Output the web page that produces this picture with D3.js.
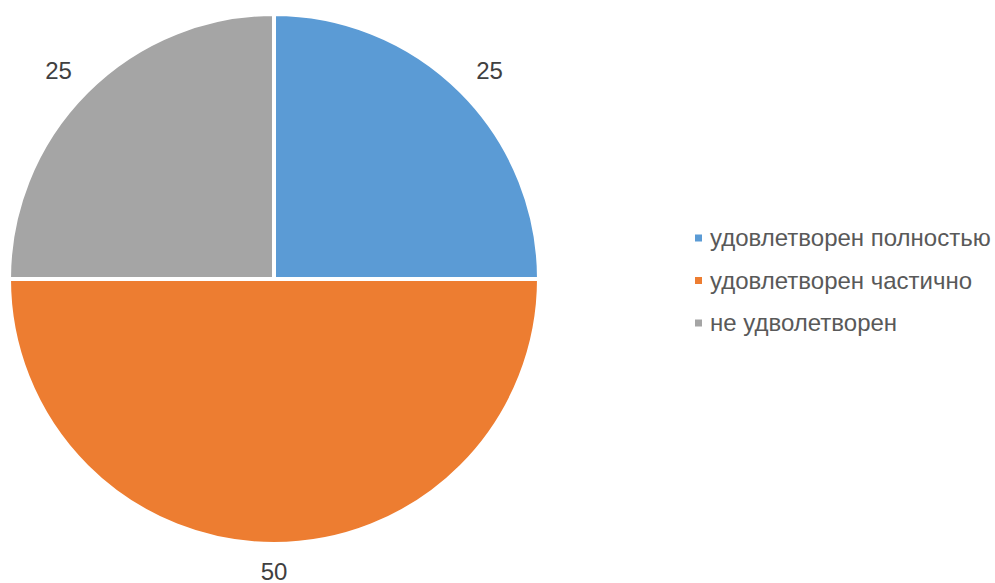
<!DOCTYPE html>
<html>
<head>
<meta charset="utf-8">
<script src="https://cdn.jsdelivr.net/npm/d3@7"></script>
<style>
  body { margin: 0; background: #fff; }
  svg { display: block; font-family: Arial, "Liberation Sans", sans-serif; }
</style>
</head>
<body>
<div id="chart"></div>
<script>
var categories = ['удовлетворен полностью', 'удовлетворен частично', 'не удволетворен'];
var values = [25, 50, 25];
var colors = ['#5B9BD5', '#ED7D31', '#A5A5A5'];

var width = 995, height = 583;
var cx = 274, cy = 279, radius = 265;

var svg = d3.select('#chart').append('svg')
    .attr('width', width)
    .attr('height', height);

var data = categories.map(function(c, i) { return {name: c, value: values[i], color: colors[i]}; });

var pie = d3.pie().sort(null).value(function(d) { return d.value; });
var arc = d3.arc().innerRadius(0).outerRadius(radius);
var labelR = radius + 20;
var labelArc = d3.arc().innerRadius(labelR).outerRadius(labelR);

var g = svg.append('g').attr('transform', 'translate(' + cx + ',' + cy + ')');

var arcs = pie(data);

g.selectAll('path.slice')
    .data(arcs)
    .enter().append('path')
    .attr('class', 'slice')
    .attr('d', arc)
    .attr('fill', function(d) { return d.data.color; })
    .attr('stroke', '#fff')
    .attr('stroke-width', 4);

// data labels, outside the pie
g.selectAll('text.lbl')
    .data(arcs)
    .enter().append('text')
    .attr('class', 'lbl')
    .attr('text-anchor', 'middle')
    .attr('dominant-baseline', 'central')
    .attr('font-size', 24)
    .attr('fill', '#404040')
    .attr('transform', function(d) {
        var c = labelArc.centroid(d);
        var hw = 14, hh = 7;
        var x = c[0] + (Math.abs(c[0]) > 1 ? Math.sign(c[0]) * hw : 0);
        var y = c[1] + (Math.abs(c[1]) > 1 ? Math.sign(c[1]) * hh : 0);
        return 'translate(' + x + ',' + y + ')';
    })
    .text(function(d) { return d.data.value; });

// legend
var legend = svg.append('g').attr('transform', 'translate(695,0)');
var rowY = d3.scaleLinear().domain([0, 2]).range([238, 323]);

var item = legend.selectAll('g.item')
    .data(data)
    .enter().append('g')
    .attr('class', 'item')
    .attr('transform', function(d, i) { return 'translate(0,' + rowY(i) + ')'; });

item.append('rect')
    .attr('x', 0).attr('y', -3.5)
    .attr('width', 7).attr('height', 7)
    .attr('fill', function(d) { return d.color; });

item.append('text')
    .attr('x', 15)
    .attr('dy', '0.35em')
    .attr('font-size', 24)
    .attr('fill', '#595959')
    .text(function(d) { return d.name; });
</script>
</body>
</html>
